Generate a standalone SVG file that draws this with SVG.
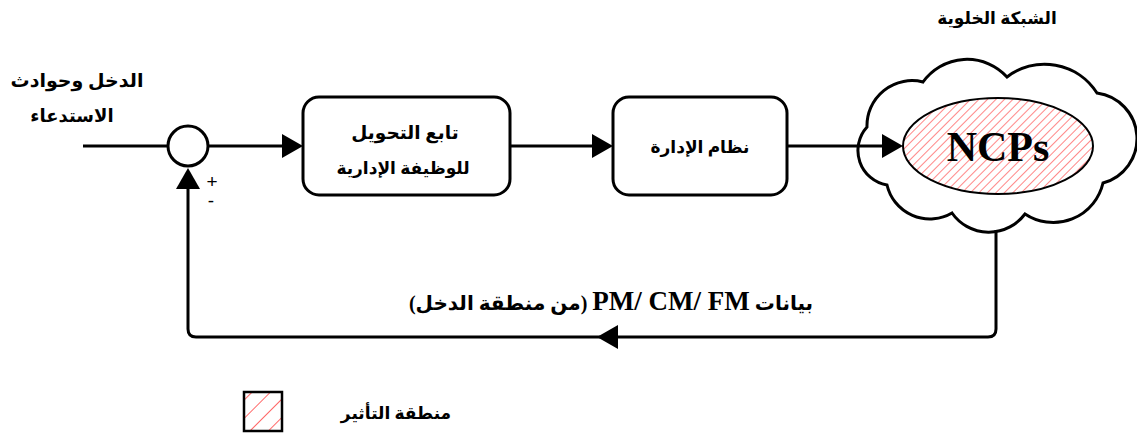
<svg xmlns="http://www.w3.org/2000/svg" width="1137" height="434" viewBox="0 0 1137 434">
  <style>
    .edge { fill: none; stroke: #000; stroke-width: 3; }
    .box { fill: #fff; stroke: #000; stroke-width: 3; }
    .ar { font-family: 'Liberation Serif', 'DejaVu Sans', serif; font-weight: bold; fill: #000; text-anchor: middle; }
    .lat { font-family: 'Liberation Serif', 'Times New Roman', serif; font-weight: bold; fill: #000; }
    .sign { font-family: 'Liberation Sans', Arial, sans-serif; fill: #000; text-anchor: middle; }
  </style>
  <defs>
    <marker id="arrow" markerUnits="userSpaceOnUse" markerWidth="22" markerHeight="24" viewBox="0 0 22 24" refX="16" refY="12" orient="auto">
      <path d="M0,0 L21,12 L0,24 Z" fill="#000"/>
    </marker>
    <!-- red diagonal hatching for the influence area -->
    <pattern id="hatch" patternUnits="userSpaceOnUse" width="6" height="6" patternTransform="rotate(45)">
      <rect width="6" height="6" fill="#fff"/>
      <line x1="0" y1="0" x2="0" y2="6" stroke="#ff3535" stroke-width="1.2"/>
    </pattern>
    <pattern id="hatchWide" patternUnits="userSpaceOnUse" width="13" height="13" patternTransform="rotate(45)">
      <rect width="13" height="13" fill="#fff"/>
      <line x1="0" y1="0" x2="0" y2="13" stroke="#ff3535" stroke-width="1.5"/>
    </pattern>
  </defs>

  <rect width="1137" height="434" fill="#fff"/>

  <!-- summing junction -->
  <g id="sum">
    <circle cx="188" cy="146" r="20" fill="#fff" stroke="#000" stroke-width="3"/>
    <text class="sign" x="212" y="188" font-size="19">+</text>
    <text class="sign" x="211" y="207" font-size="19">-</text>
  </g>

  <!-- input label -->
  <g id="input-label">
    <text class="ar" x="77" y="87" font-size="19">الدخل وحوادث</text>
    <text class="ar" x="72" y="122" font-size="18">الاستدعاء</text>
  </g>

  <!-- transfer function block -->
  <g id="transfer">
    <rect class="box" x="303" y="97" width="207" height="98" rx="16"/>
    <text class="ar" x="405" y="139" font-size="18.5">تابع التحويل</text>
    <text class="ar" x="403" y="174" font-size="17">للوظيفة الإدارية</text>
  </g>

  <!-- management system block -->
  <g id="management">
    <rect class="box" x="613" y="97" width="174" height="98" rx="16"/>
    <text class="ar" x="700" y="153" font-size="17">نظام الإدارة</text>
  </g>

  <!-- cellular network cloud -->
  <g id="network">
    <text class="ar" x="997" y="24" font-size="17">الشبكة الخلوية</text>
    <path fill="#fff" stroke="#000" stroke-width="3" d="M867,127 A45,45 0 0 1 923,82 A54,54 0 0 1 1007,77 A62,62 0 0 1 1097,93 A46,46 0 0 1 1103,183 A51,51 0 0 1 1025,214 A45,45 0 0 1 952,213 A44,44 0 0 1 887,185 A35,35 0 0 1 867,127 Z"/>
    <ellipse cx="998" cy="146" rx="95" ry="48" fill="url(#hatch)" stroke="#000" stroke-width="2"/>
    <text class="lat" x="998" y="161" font-size="42" text-anchor="middle">NCPs</text>
  </g>

  <!-- feedback label -->
  <g id="feedback-label">
    <text class="ar" x="611" y="310" font-size="20" direction="rtl">بيانات <tspan class="lat" font-size="27">PM/ CM/ FM</tspan> (من منطقة الدخل)</text>
  </g>

  <!-- legend -->
  <g id="legend">
    <rect x="244" y="392" width="38" height="39" fill="url(#hatchWide)" stroke="#000" stroke-width="2.5"/>
    <text class="ar" x="396" y="419" font-size="17">منطقة التأثير</text>
  </g>

  <!-- connectors -->
  <g id="connectors">
    <line class="edge" x1="83" y1="146" x2="167" y2="146"/>
    <line class="edge" x1="209" y1="146" x2="298" y2="146" marker-end="url(#arrow)"/>
    <line class="edge" x1="510" y1="146" x2="608" y2="146" marker-end="url(#arrow)"/>
    <line class="edge" x1="787" y1="146" x2="898" y2="146" marker-end="url(#arrow)"/>
    <path class="edge" d="M996,230 V329 Q996,337 988,337 H602" marker-end="url(#arrow)"/>
    <path class="edge" d="M600,337 H196 Q188,337 188,329 V173" marker-end="url(#arrow)"/>
  </g>
</svg>
